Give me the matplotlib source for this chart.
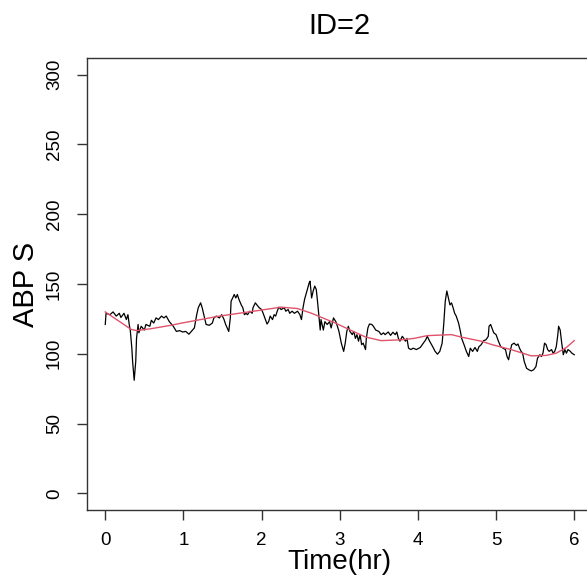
import matplotlib
matplotlib.use("Agg")
import matplotlib.pyplot as plt

plt.rcParams['font.family'] = ['Liberation Sans', 'DejaVu Sans']

# ABP S (black trace)
time_hr = [0.00, 0.01, 0.06, 0.10, 0.14, 0.18, 0.20, 0.24, 0.27, 0.29,
           0.31, 0.32, 0.34, 0.35, 0.37, 0.39, 0.40, 0.42, 0.43, 0.46,
           0.50, 0.52, 0.57, 0.59, 0.62, 0.65, 0.68, 0.72, 0.75, 0.78,
           0.82, 0.87, 0.91, 0.95, 0.99, 1.03, 1.07, 1.11, 1.14, 1.17,
           1.19, 1.22, 1.24, 1.27, 1.29, 1.33, 1.37, 1.39, 1.42, 1.46,
           1.49, 1.52, 1.54, 1.58, 1.60, 1.61, 1.63, 1.65, 1.67, 1.69,
           1.71, 1.74, 1.76, 1.78, 1.80, 1.82, 1.85, 1.88, 1.89, 1.92,
           1.94, 1.97, 2.00, 2.02, 2.05, 2.07, 2.09, 2.11, 2.14, 2.16,
           2.18, 2.20, 2.22, 2.25, 2.29, 2.31, 2.34, 2.36, 2.39, 2.42,
           2.46, 2.49, 2.51, 2.53, 2.55, 2.58, 2.61, 2.62, 2.64, 2.66,
           2.68, 2.70, 2.72, 2.75, 2.76, 2.79, 2.81, 2.84, 2.87, 2.89,
           2.92, 2.95, 2.97, 2.99, 3.02, 3.05, 3.07, 3.09, 3.11, 3.13,
           3.16, 3.18, 3.20, 3.22, 3.24, 3.26, 3.28, 3.30, 3.33, 3.34,
           3.36, 3.38, 3.41, 3.43, 3.46, 3.50, 3.53, 3.56, 3.58, 3.62,
           3.65, 3.68, 3.71, 3.73, 3.75, 3.77, 3.80, 3.82, 3.84, 3.86,
           3.88, 3.91, 3.94, 3.98, 4.03, 4.07, 4.10, 4.12, 4.15, 4.19,
           4.22, 4.25, 4.28, 4.31, 4.33, 4.35, 4.37, 4.39, 4.41, 4.43,
           4.45, 4.47, 4.49, 4.52, 4.54, 4.56, 4.59, 4.62, 4.65, 4.67,
           4.70, 4.73, 4.76, 4.78, 4.81, 4.84, 4.87, 4.90, 4.91, 4.93,
           4.97, 5.00, 5.03, 5.06, 5.09, 5.12, 5.14, 5.16, 5.18, 5.20,
           5.23, 5.26, 5.28, 5.30, 5.32, 5.34, 5.36, 5.39, 5.42, 5.45,
           5.48, 5.51, 5.53, 5.56, 5.58, 5.60, 5.62, 5.64, 5.66, 5.68,
           5.71, 5.73, 5.75, 5.77, 5.79, 5.80, 5.82, 5.84, 5.86, 5.88,
           5.90, 5.92, 5.95, 5.97, 6.00]
abp_s = [121, 129, 128, 130, 127, 129, 126, 129, 124.5, 128,
         119.7, 117, 104, 94.5, 81, 94.5, 111, 121, 115, 119.7,
         117, 121, 119.7, 124, 122, 125.7, 124.5, 127, 125.7, 127,
         123, 119.7, 116, 116.6, 115.6, 116, 114, 116.6, 118.5, 128,
         133, 136.5, 133, 125.7, 121, 120.4, 122, 125.7, 127, 125.7,
         128, 124.5, 121, 116, 125.7, 137.7, 140, 142.5, 140, 142.5,
         139, 135, 133, 128, 129, 128, 130.5, 129, 133, 136.5,
         135, 133, 131.7, 129, 124.5, 121.3, 123, 127, 124.5, 128,
         127, 130.5, 133.4, 131.7, 133, 130.5, 131.7, 129, 130.5, 129,
         130.5, 128, 124.5, 133, 139, 145, 151, 152, 140, 145,
         148.5, 146, 135, 117, 124.5, 117, 123, 121, 123, 118.5,
         125.7, 123, 119.7, 116, 107.6, 101.7, 107.6, 116, 119.7, 116,
         113.7, 116, 111, 113.7, 109, 113.7, 106.5, 107.6, 103, 111,
         118.5, 121.3, 121, 119.7, 117, 116, 113.7, 115, 113.7, 115.6,
         113.2, 115.4, 113.7, 115.6, 111, 109, 112.5, 111, 109, 111,
         104, 103, 104, 103, 104.5, 107.6, 110, 112.5, 109, 105,
         101.7, 99.7, 101.7, 107.6, 121, 137.7, 145, 140, 135, 136.5,
         133, 129, 127, 122, 117, 111, 106.5, 101.7, 98, 104,
         101.7, 104.5, 101.7, 105, 106.5, 109.4, 110, 112.5, 119.7, 121,
         115, 113.7, 109, 105, 104, 103, 98, 95.7, 101.7, 106.5,
         107.6, 106, 107, 104, 101.7, 100.4, 94.5, 89.6, 88.5, 87.7,
         88.5, 90.8, 96.8, 99.3, 98, 100.4, 107.6, 106.5, 103, 101.7,
         103, 100.4, 101.7, 105, 113.7, 119.7, 117, 107.6, 99.3, 103,
         100.4, 103, 101.7, 100.4, 99.3]

# smooth trend (red)
smooth_t = [0.00, 0.33, 0.40, 0.59, 0.84, 0.96, 1.46, 1.96, 2.25, 2.46,
            2.64, 2.96, 3.15, 3.33, 3.53, 3.79, 3.95, 4.12, 4.43, 4.55,
            4.81, 4.95, 5.19, 5.45, 5.64, 5.77, 5.90, 6.00]
smooth_v = [130, 117.5, 116.6, 118, 120.4, 121.8, 127, 131, 133.4, 132.4,
            129, 121.6, 116.6, 112, 109.4, 110, 111, 113, 113.7, 112,
            109, 106.5, 103, 98.5, 98.8, 100.4, 104.5, 109.4]

y_ticks = [0, 50, 100, 150, 200, 250, 300]
x_ticks = [0, 1, 2, 3, 4, 5, 6]

W, H = 587, 577
fig = plt.figure(figsize=(W / 100, H / 100), dpi=100)
ax = fig.add_axes([86.5 / W, (H - 510) / H, (593 - 86.5) / W, (510 - 58) / H])

ax.plot(time_hr, abp_s, color='black', lw=0.9)
ax.plot(smooth_t, smooth_v, color='#DF536B', lw=1.0)

ax.set_xlim(-0.24, 6.24)
ax.set_ylim(-12, 312)
ax.set_xticks(x_ticks)
ax.set_yticks(y_ticks)
ax.tick_params(labelsize=13.5, length=7, width=1, color='#333333')
ax.tick_params(axis='x', pad=9)
ax.tick_params(axis='y', pad=10)
plt.setp(ax.get_yticklabels(), rotation=90, va='center')
for s in ax.spines.values():
    s.set_linewidth(1)
    s.set_color('#333333')

ax.set_xlabel("Time(hr)", fontsize=20, labelpad=0)
ax.set_ylabel("ABP S", fontsize=21, labelpad=4)
ax.set_title("ID=2", fontsize=21, pad=17)

fig.savefig("out.png", dpi=100)
